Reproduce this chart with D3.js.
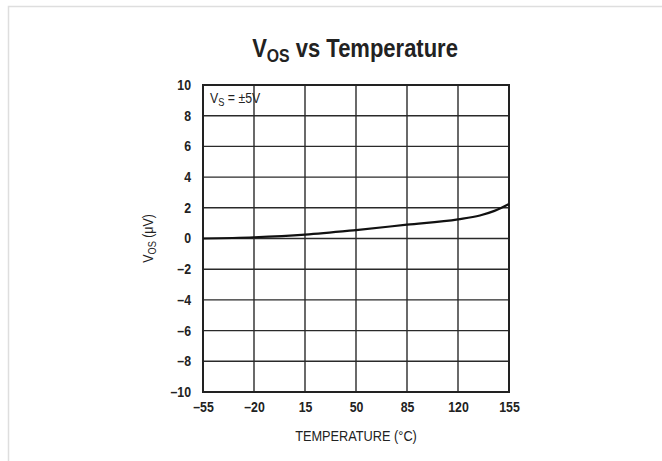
<!DOCTYPE html>
<html>
<head>
<meta charset="utf-8">
<script src="https://cdn.jsdelivr.net/npm/d3@7"></script>
<style>
  html, body { margin: 0; padding: 0; background: #fff; }
  svg { display: block; }
  text { font-family: "Liberation Sans Narrow", "Arial Narrow", "Liberation Sans", sans-serif; fill: #222; }
</style>
</head>
<body>
<svg id="chart" width="662" height="461"></svg>
<script>
// Offset voltage vs temperature, VS = ±5V
const temperatures = [-55, -20, 15, 50, 85, 120, 135, 145, 155];
const vosValues    = [0, 0.08, 0.25, 0.55, 0.9, 1.25, 1.5, 1.8, 2.25];
const xTicks = [-55, -20, 15, 50, 85, 120, 155];
const yTicks = [-10, -8, -6, -4, -2, 0, 2, 4, 6, 8, 10];

const svg = d3.select("#chart");
const plot = { left: 203, right: 509, top: 85, bottom: 392 };
const squeeze = 0.88; // narrow lettering

// Outer panel frame
svg.append("rect")
  .attr("x", 8.5).attr("y", 6.5)
  .attr("width", 700).attr("height", 500)
  .attr("fill", "none").attr("stroke", "#dedede").attr("stroke-width", 1.5);

const x = d3.scaleLinear().domain([-55, 155]).range([plot.left, plot.right]);
const y = d3.scaleLinear().domain([-10, 10]).range([plot.bottom, plot.top]);

// Grid
const grid = svg.append("g").attr("stroke", "#2a2a2a").attr("stroke-width", 1.4);
grid.selectAll("line.v").data(xTicks).join("line")
  .attr("x1", d => x(d)).attr("x2", d => x(d))
  .attr("y1", plot.top).attr("y2", plot.bottom);
grid.selectAll("line.h").data(yTicks).join("line")
  .attr("x1", plot.left).attr("x2", plot.right)
  .attr("y1", d => y(d)).attr("y2", d => y(d));

// Frame
svg.append("rect")
  .attr("x", plot.left).attr("y", plot.top)
  .attr("width", plot.right - plot.left).attr("height", plot.bottom - plot.top)
  .attr("fill", "none").attr("stroke", "#222").attr("stroke-width", 2);

const fmt = d => d < 0 ? "\u2013" + Math.abs(d) : d;

// Tick labels via d3 axes (lines hidden, text kept)
const xAxis = svg.append("g")
  .attr("transform", `translate(0,${plot.bottom})`)
  .call(d3.axisBottom(x).tickValues(xTicks).tickSize(0).tickPadding(10).tickFormat(fmt));
xAxis.select(".domain").remove();
xAxis.selectAll("text")
  .attr("font-size", 14).attr("font-weight", "bold").style("font-family", null)
  .attr("transform", `scale(${squeeze},1)`);

const yAxis = svg.append("g")
  .attr("transform", `translate(${plot.left},0)`)
  .call(d3.axisLeft(y).tickValues(yTicks).tickSize(0).tickPadding(12).tickFormat(fmt));
yAxis.select(".domain").remove();
yAxis.selectAll("text")
  .attr("font-size", 14).attr("font-weight", "bold").style("font-family", null)
  .attr("x", -12 / squeeze)
  .attr("transform", `scale(${squeeze},1)`);

// Curve
const line = d3.line()
  .x((d, i) => x(temperatures[i]))
  .y(d => y(d))
  .curve(d3.curveMonotoneX);
svg.append("path")
  .datum(vosValues)
  .attr("fill", "none").attr("stroke", "#111").attr("stroke-width", 2.2)
  .attr("d", line);

// Title
const title = svg.append("text")
  .attr("transform", `translate(355,57) scale(${squeeze},1)`)
  .attr("text-anchor", "middle")
  .attr("font-size", 25).attr("font-weight", "bold");
title.append("tspan").text("V");
title.append("tspan").text("OS").attr("font-size", 18).attr("dy", 5);
title.append("tspan").text(" vs Temperature").attr("dy", -5);

// Condition label
const cond = svg.append("text")
  .attr("transform", `translate(210,103) scale(${squeeze},1)`)
  .attr("font-size", 14);
cond.append("tspan").text("V");
cond.append("tspan").text("S").attr("font-size", 10.5).attr("dy", 3);
cond.append("tspan").text(" = \u00b15V").attr("dy", -3);

// Axis titles
svg.append("text")
  .attr("transform", `translate(356,441) scale(${squeeze},1)`)
  .attr("text-anchor", "middle")
  .attr("font-size", 14.5)
  .text("TEMPERATURE (\u00b0C)");

const yt = svg.append("text")
  .attr("transform", `translate(153,${(plot.top + plot.bottom) / 2}) rotate(-90) scale(${squeeze},1)`)
  .attr("text-anchor", "middle")
  .attr("font-size", 14);
yt.append("tspan").text("V");
yt.append("tspan").text("OS").attr("font-size", 10.5).attr("dy", 3);
yt.append("tspan").text(" (\u03bcV)").attr("dy", -3);
</script>
</body>
</html>
